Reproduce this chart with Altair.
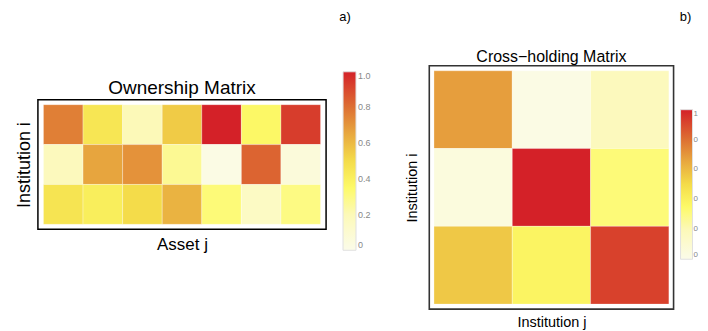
import altair as alt
import pandas as pd

# ---- data ----
assets = ["A1", "A2", "A3", "A4", "A5", "A6", "A7"]
institutions = ["I1", "I2", "I3"]
ownership = [
    [0.76, 0.45, 0.20, 0.55, 1.00, 0.36, 0.93],
    [0.18, 0.66, 0.71, 0.27, 0.02, 0.83, 0.06],
    [0.46, 0.41, 0.50, 0.62, 0.32, 0.15, 0.30],
]
crossholding = [
    [0.68, 0.02, 0.18],
    [0.05, 1.00, 0.32],
    [0.56, 0.38, 0.92],
]
legend_values = [0, 0.2, 0.4, 0.6, 0.8, 1.0]

own_df = pd.DataFrame(
    [{"inst": institutions[i], "asset": assets[j], "v": ownership[i][j]}
     for i in range(len(institutions)) for j in range(len(assets))]
)
cross_df = pd.DataFrame(
    [{"inst": institutions[i], "instj": institutions[j], "v": crossholding[i][j]}
     for i in range(3) for j in range(3)]
)

FONT = "Liberation Sans"
cdomain = [0, 0.2, 0.35, 0.5, 0.65, 0.8, 1.0]
crange = ["#fbfbe9", "#fcf9b8", "#fdfa68", "#f4dc4a", "#e8a93f", "#dd7033", "#d42128"]


def cscale():
    return alt.Scale(domain=cdomain, range=crange, interpolate="rgb")


# ---- left panel ----
left_rect = alt.Chart(own_df).mark_rect(stroke="white", strokeWidth=0.6, strokeOpacity=0.5).encode(
    x=alt.X("asset:N", sort=assets,
            scale=alt.Scale(paddingInner=0, paddingOuter=0.14),
            axis=alt.Axis(title="Asset j", labels=False, ticks=False, domain=False,
                          titleFontSize=17, titleFont=FONT, titleFontWeight="normal",
                          titleColor="black", titlePadding=7)),
    y=alt.Y("inst:N", sort=institutions,
            scale=alt.Scale(paddingInner=0, paddingOuter=0.125),
            axis=alt.Axis(title="Institution i", labels=False, ticks=False, domain=False,
                          titleFontSize=18, titleFont=FONT, titleFontWeight="normal",
                          titleColor="black", titlePadding=4)),
    color=alt.Color("v:Q", scale=cscale(),
                    legend=alt.Legend(title=None, orient="none", legendX=306, legendY=6,
                                      direction="vertical", gradientLength=179,
                                      gradientThickness=13, values=legend_values,
                                      labelExpr="datum.value == 0 ? '0' : format(datum.value, '.1f')",
                                      labelFontSize=9, labelColor="#888888", labelFont=FONT,
                                      gradientStrokeColor="#e0e0e0", gradientStrokeWidth=1)),
)
left_tag = alt.Chart(pd.DataFrame({"t": ["a)"]})).mark_text(
    fontSize=13, font=FONT, color="black", align="center", baseline="middle"
).encode(text="t:N", x=alt.value(308), y=alt.value(-83))

left = alt.layer(left_rect, left_tag).properties(
    width=289, height=130,
    view=alt.ViewBackground(stroke="#000000", strokeWidth=1.5),
    title=alt.TitleParams("Ownership Matrix", fontSize=19, font=FONT, fontWeight="normal",
                          color="black", offset=3, dy=90),
)

spacer = alt.Chart(pd.DataFrame({"t": [""]})).mark_text().encode(text="t:N").properties(
    width=1, height=1, view=alt.ViewBackground(stroke="transparent")
)

left_col = alt.vconcat(spacer, left, spacing=33, bounds="flush")

# ---- right panel ----
right_rect = alt.Chart(cross_df).mark_rect(stroke="white", strokeWidth=0.6, strokeOpacity=0.5).encode(
    x=alt.X("instj:N", sort=institutions,
            scale=alt.Scale(paddingInner=0, paddingOuter=0.06),
            axis=alt.Axis(title="Institution j", labels=False, ticks=False, domain=False,
                          titleFontSize=14.5, titleFont=FONT, titleFontWeight="normal",
                          titleColor="black", titlePadding=6)),
    y=alt.Y("inst:N", sort=institutions,
            scale=alt.Scale(paddingInner=0, paddingOuter=0.064),
            axis=alt.Axis(title="Institution i", labels=False, ticks=False, domain=False,
                          titleFontSize=14.5, titleFont=FONT, titleFontWeight="normal",
                          titleColor="black", titlePadding=9.5)),
    color=alt.Color("v:Q", scale=cscale(),
                    legend=alt.Legend(title=None, orient="none", legendX=252, legendY=44,
                                      direction="vertical", gradientLength=150,
                                      gradientThickness=12, values=legend_values,
                                      labelExpr="datum.value == 1 ? '1' : '0'",
                                      labelFontSize=8, labelColor="#888888", labelFont=FONT,
                                      labelOffset=1,
                                      gradientStrokeColor="#e0e0e0", gradientStrokeWidth=1)),
)
right_tag = alt.Chart(pd.DataFrame({"t": ["b)"]})).mark_text(
    fontSize=13, font=FONT, color="black", align="center", baseline="middle"
).encode(text="t:N", x=alt.value(257), y=alt.value(-49))

right = alt.layer(right_rect, right_tag).properties(
    width=245, height=244,
    view=alt.ViewBackground(stroke="#333333", strokeWidth=1.6),
    title=alt.TitleParams("Cross\u2212holding Matrix", fontSize=16, font=FONT, fontWeight="normal",
                          color="black", offset=3, dy=57),
)

chart = alt.hconcat(left_col, right, spacing=32.5).resolve_scale(
    color="independent"
).properties(
    padding={"left": 7, "top": 1.5, "right": 0, "bottom": 0},
    background="white",
)

chart.save("out.html", embed_options={"renderer": "svg", "actions": False})
